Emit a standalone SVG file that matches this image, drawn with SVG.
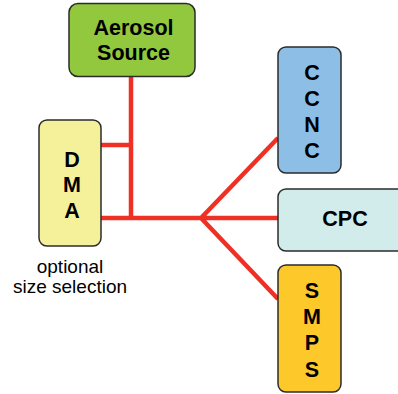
<svg xmlns="http://www.w3.org/2000/svg" width="398" height="394" viewBox="0 0 398 394">
<style>
.box{stroke:#2b2b2b;stroke-width:1.5}
.lbl{font-family:"Liberation Sans",Arial,sans-serif;font-weight:bold;font-size:21.5px;fill:#000;text-anchor:middle}
.note{font-family:"Liberation Sans",Arial,sans-serif;font-size:19px;fill:#000;text-anchor:middle}
.pipe{stroke:#ee3124;stroke-width:4.5;fill:none}
</style>
<rect width="398" height="394" fill="#fff"/>
<g id="connectors">
<path class="pipe" d="M131,77 V218 M101,145 H131 M101,218 H201 M201,218 L278,138 M201,218 H278 M201,218 L278,299"/>
</g>
<g id="aerosol-source">
<rect class="box" x="69" y="3.5" width="126" height="73" rx="9" fill="#92c83e"/>
<text class="lbl" x="133.5" y="35">Aerosol</text>
<text class="lbl" x="133.5" y="60">Source</text>
</g>
<g id="dma">
<rect class="box" x="39" y="120" width="62" height="126" rx="8" fill="#f5f09a"/>
<text class="lbl" x="72" y="167">D</text>
<text class="lbl" x="72" y="192">M</text>
<text class="lbl" x="72" y="218">A</text>
</g>
<g id="dma-note">
<text class="note" x="70" y="273">optional</text>
<text class="note" x="70" y="293">size selection</text>
</g>
<g id="ccnc">
<rect class="box" x="278" y="47" width="63" height="126" rx="8" fill="#8dbfe6"/>
<text class="lbl" x="312" y="80">C</text>
<text class="lbl" x="312" y="106">C</text>
<text class="lbl" x="312" y="132">N</text>
<text class="lbl" x="312" y="158">C</text>
</g>
<g id="cpc">
<rect class="box" x="278" y="189" width="140" height="62" rx="8" fill="#d2ecec"/>
<text class="lbl" x="345" y="226">CPC</text>
</g>
<g id="smps">
<rect class="box" x="278" y="265" width="63" height="127" rx="8" fill="#fdc82a"/>
<text class="lbl" x="312" y="298">S</text>
<text class="lbl" x="312" y="324">M</text>
<text class="lbl" x="312" y="350">P</text>
<text class="lbl" x="312" y="377">S</text>
</g>
</svg>
